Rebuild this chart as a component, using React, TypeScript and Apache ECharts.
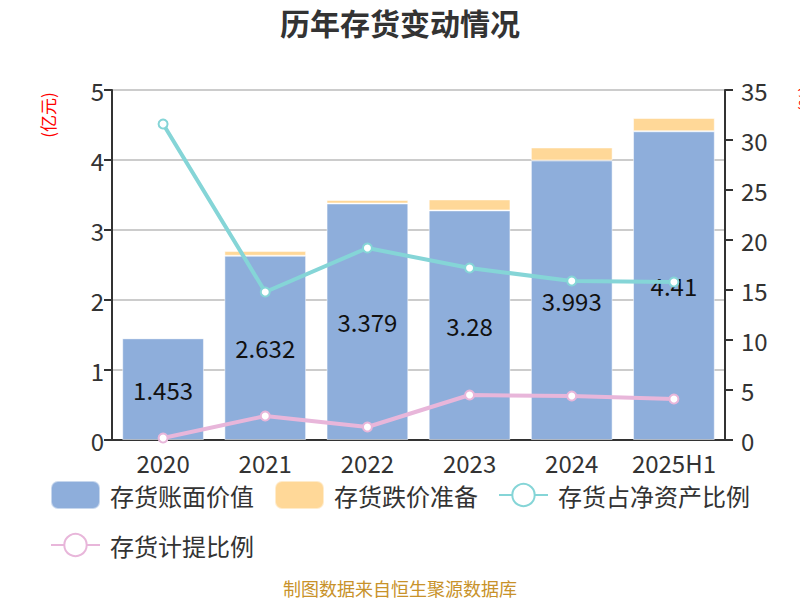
import React, { useRef, useEffect } from 'react';
import * as echarts from 'echarts';

const years = ['2020', '2021', '2022', '2023', '2024', '2025H1'];
const bookValue = [1.453, 2.632, 3.379, 3.28, 3.993, 4.41];
const impairment = [0, 0.067, 0.05, 0.157, 0.186, 0.19];
const netAssetRatio = [31.6, 14.8, 19.2, 17.2, 15.9, 15.8];
const provisionRatio = [0.2, 2.4, 1.3, 4.5, 4.4, 4.1];

const FONT = '"Noto Sans CJK SC", "Noto Sans", sans-serif';

export default function App() {
  const chartRef = useRef<HTMLDivElement>(null);

  useEffect(() => {
    if (!chartRef.current) return;
    const chart = echarts.init(chartRef.current, undefined, { renderer: 'svg' });

    const option: echarts.EChartsOption = {
      animation: false,
      backgroundColor: '#fff',
      textStyle: { fontFamily: FONT },
      title: {
        text: '历年存货变动情况',
        left: 'center',
        top: 2,
        textStyle: { fontSize: 30, fontWeight: 'bold', color: '#333', fontFamily: FONT },
      },
      legend: {
        left: 45,
        top: 475,
        width: 740,
        itemWidth: 49,
        itemHeight: 28,
        itemGap: 20,
        textStyle: { fontSize: 24, color: '#333', fontFamily: FONT, padding: [0, 0, 0, 5] },
        data: [
          { name: '存货账面价值', icon: 'roundRect' },
          { name: '存货跌价准备', icon: 'roundRect' },
          '存货占净资产比例',
          '存货计提比例',
        ],
      },
      grid: { left: 112, right: 75, top: 90, bottom: 160 },
      xAxis: {
        type: 'category',
        data: years,
        axisLine: { lineStyle: { color: '#333', width: 2 } },
        axisTick: { length: 8, lineStyle: { width: 2 } },
        axisLabel: { fontSize: 24, color: '#333', margin: 10, interval: 0 },
      },
      yAxis: [
        {
          type: 'value',
          min: 0,
          max: 5,
          interval: 1,
          axisLine: { show: true, lineStyle: { color: '#333', width: 2 } },
          axisTick: { show: true, length: 8, lineStyle: { width: 2 } },
          axisLabel: { fontSize: 24, color: '#333', margin: 8 },
          splitLine: { lineStyle: { color: '#ccc', width: 2 } },
        },
        {
          type: 'value',
          min: 0,
          max: 35,
          interval: 5,
          axisLine: { show: true, lineStyle: { color: '#333', width: 2 } },
          axisTick: { show: true, length: 8, lineStyle: { width: 2 } },
          axisLabel: { fontSize: 24, color: '#333', margin: 16 },
          splitLine: { show: false },
        },
      ],
      graphic: [
        {
          type: 'text',
          x: 47,
          y: 115,
          rotation: Math.PI / 2,
          style: {
            text: '(亿元)',
            fill: '#f00',
            font: `17px ${FONT}`,
            align: 'center',
            verticalAlign: 'middle',
          },
        },
        {
          type: 'text',
          x: 804,
          y: 99,
          rotation: Math.PI / 2,
          style: {
            text: '(%)',
            fill: '#f00',
            font: `16px ${FONT}`,
            align: 'center',
            verticalAlign: 'middle',
          },
        },
        {
          type: 'text',
          x: 400,
          y: 588,
          style: {
            text: '制图数据来自恒生聚源数据库',
            fill: '#c8922a',
            font: `18px ${FONT}`,
            align: 'center',
            verticalAlign: 'middle',
          },
        },
      ],
      series: [
        {
          name: '存货账面价值',
          type: 'bar',
          stack: 'inv',
          barWidth: '80%',
          data: bookValue,
          itemStyle: { color: '#8eaedb', borderColor: 'rgba(255,255,255,0.5)', borderWidth: 1 },
          label: {
            show: true,
            position: 'inside',
            fontSize: 24,
            color: '#111',
            fontFamily: FONT,
          },
        },
        {
          name: '存货跌价准备',
          type: 'bar',
          stack: 'inv',
          barWidth: '80%',
          data: impairment,
          itemStyle: { color: '#ffd898', borderColor: 'rgba(255,255,255,0.5)', borderWidth: 1 },
        },
        {
          name: '存货占净资产比例',
          type: 'line',
          yAxisIndex: 1,
          data: netAssetRatio,
          symbol: 'circle',
          symbolSize: 9,
          lineStyle: { color: '#85d5d7', width: 4 },
          itemStyle: { color: '#fff', borderColor: '#85d5d7', borderWidth: 2 },
        },
        {
          name: '存货计提比例',
          type: 'line',
          yAxisIndex: 1,
          data: provisionRatio,
          symbol: 'circle',
          symbolSize: 9,
          lineStyle: { color: '#e8b6da', width: 4 },
          itemStyle: { color: '#fff', borderColor: '#e8b6da', borderWidth: 2 },
        },
      ],
    };

    chart.setOption(option);
    return () => chart.dispose();
  }, []);

  return <div ref={chartRef} style={{ width: 800, height: 600, position: 'absolute', left: 0, top: 0 }} />;
}
